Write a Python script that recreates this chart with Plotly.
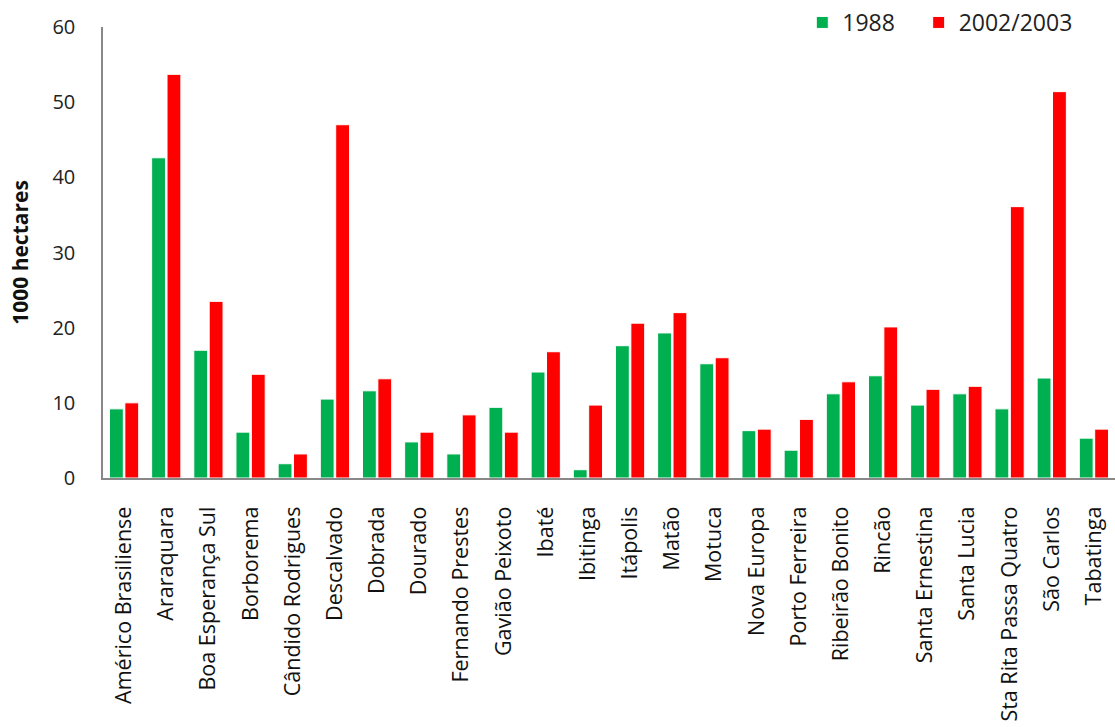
import plotly.graph_objects as go

categories = ["Américo Brasiliense", "Araraquara", "Boa Esperança Sul", "Borborema",
              "Cândido Rodrigues", "Descalvado", "Dobrada", "Dourado", "Fernando Prestes",
              "Gavião Peixoto", "Ibaté", "Ibitinga", "Itápolis", "Matão", "Motuca",
              "Nova Europa", "Porto Ferreira", "Ribeirão Bonito", "Rincão", "Santa Ernestina",
              "Santa Lucia", "Sta Rita Passa Quatro", "São Carlos", "Tabatinga"]
v1988 = [9.2, 42.6, 17.0, 6.1, 1.9, 10.5, 11.6, 4.8, 3.2, 9.4, 14.1, 1.1, 17.6, 19.3, 15.2,
         6.3, 3.7, 11.2, 13.6, 9.7, 11.2, 9.2, 13.3, 5.3]
v2002 = [10.0, 53.7, 23.5, 13.8, 3.2, 47.0, 13.2, 6.1, 8.4, 6.1, 16.8, 9.7, 20.6, 22.0, 16.0,
         6.5, 7.8, 12.8, 20.1, 11.8, 12.2, 36.1, 51.4, 6.5]
yticks = [0, 10, 20, 30, 40, 50, 60]

font = "Open Sans, Liberation Sans, sans-serif"
fig = go.Figure()
fig.add_trace(go.Bar(x=categories, y=v1988, name="1988", marker_color="#00B050",
                     marker_line=dict(color="white", width=1), legend="legend"))
fig.add_trace(go.Bar(x=categories, y=v2002, name="2002/2003", marker_color="#FF0000",
                     marker_line=dict(color="white", width=1), legend="legend2"))

leg_common = dict(orientation="h", y=1.01, yanchor="middle", xanchor="left",
                  font=dict(size=23, color="#222"), itemwidth=30, bgcolor="rgba(0,0,0,0)")
fig.update_layout(
    width=1115, height=727,
    margin=dict(l=103, r=0, t=27, b=249),
    paper_bgcolor="white", plot_bgcolor="white",
    barmode="group", bargap=0.27, bargroupgap=0.1,
    font=dict(family=font, size=14, color="#222"),
    legend=dict(x=0.691, **leg_common),
    legend2=dict(x=0.806, **leg_common),
    showlegend=True,
)
fig.update_xaxes(tickangle=-90, showline=True, linecolor="#888", linewidth=2,
                 ticks="", tickfont=dict(size=21.5, color="#111"), showgrid=False,
                 ticklabelstandoff=18, automargin=False)
fig.update_yaxes(range=[0, 60], tickvals=yticks, showline=True, linecolor="#888", linewidth=1.5,
                 showgrid=False, zeroline=False, ticks="", ticklen=0,
                 tickfont=dict(size=20, color="#222"), ticklabelstandoff=22, automargin=False,
                 title=dict(text="<b>1000 hectares</b>", font=dict(size=21, color="#111"), standoff=18))

fig.write_html("out.html")
